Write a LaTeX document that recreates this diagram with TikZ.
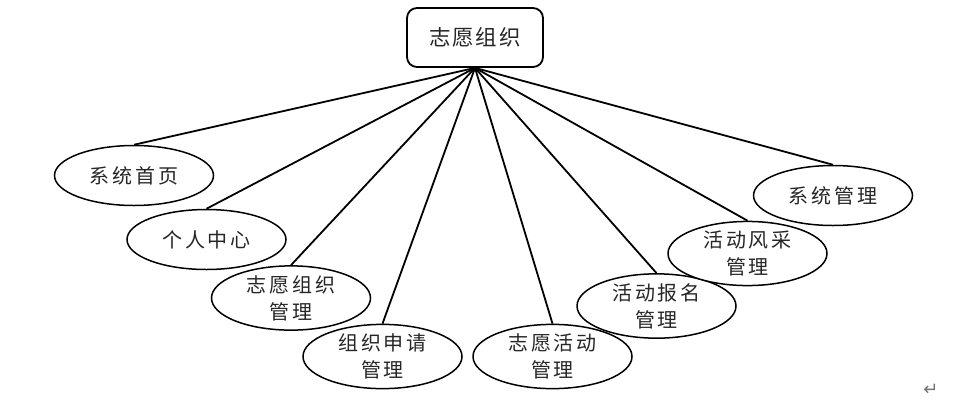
\documentclass[tikz,border=0pt]{standalone}
\usepackage{fontspec}
\newfontfamily\cjk[LetterSpace=14]{Noto Sans CJK SC}
\newfontfamily\cjkroot[LetterSpace=8]{Noto Sans CJK SC}
\newfontfamily\dejavu{DejaVu Sans}
\usetikzlibrary{shapes.geometric}
\begin{document}
\begin{tikzpicture}[x=1pt,y=-1pt,
 leaf/.style={ellipse,draw,line width=1.5pt,fill=white,minimum width=159pt,minimum height=60pt,inner sep=0pt,font=\cjk\fontsize{20}{27}\selectfont,align=center,text=black!85},
 root/.style={rectangle,rounded corners=10pt,draw,line width=1.8pt,fill=white,minimum width=136pt,minimum height=59pt,font=\cjkroot\fontsize{21.5}{26}\selectfont,text=black!85},
 link/.style={line width=1.8pt}]
\useasboundingbox (0,0) rectangle (965,402);
\node[root] (r) at (475,37.5) {志愿组织};
\node[leaf] (a) at (134,175.5) {系统首页};
\node[leaf] (b) at (206.5,239.5) {个人中心};
\node[leaf] (c) at (291,298) {志愿组织\\管理};
\node[leaf] (d) at (382.5,356.5) {组织申请\\管理};
\node[leaf] (e) at (552.5,356.5) {志愿活动\\管理};
\node[leaf] (f) at (656.5,306) {活动报名\\管理};
\node[leaf] (g) at (747.5,253.5) {活动风采\\管理};
\node[leaf] (h) at (833,195.5) {系统管理};
\foreach \t in {a,b,c,d,e,f,g,h}{\draw[link] (r.south) -- (\t.north);}
\node[font=\dejavu\fontsize{18}{18}\selectfont,text=black!55,inner sep=0pt] (m) at (931,390) {↵};
\end{tikzpicture}
\end{document}
